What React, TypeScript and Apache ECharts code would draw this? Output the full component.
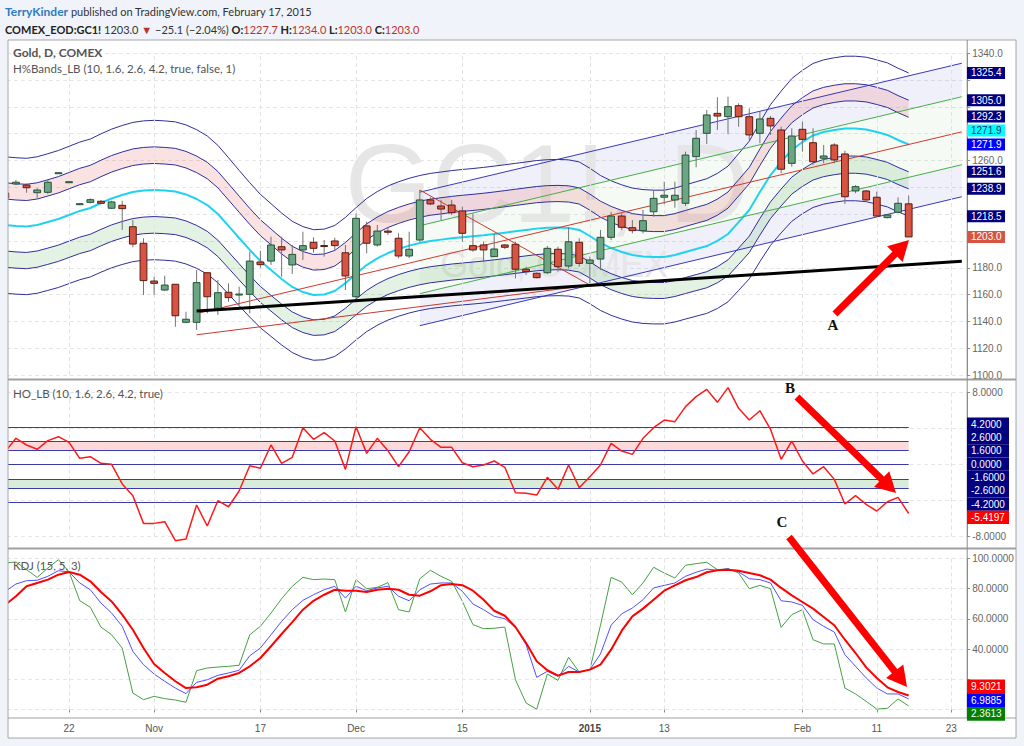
import React, { useEffect, useRef } from 'react';
import * as echarts from 'echarts';

// ---------- DATA ----------
const dates = [
  '2014-10-14','2014-10-15','2014-10-16','2014-10-17','2014-10-20','2014-10-21','2014-10-22','2014-10-23','2014-10-24',
  '2014-10-27','2014-10-28','2014-10-29','2014-10-30','2014-10-31','2014-11-03','2014-11-04','2014-11-05','2014-11-06',
  '2014-11-07','2014-11-10','2014-11-11','2014-11-12','2014-11-13','2014-11-14','2014-11-17','2014-11-18','2014-11-19',
  '2014-11-20','2014-11-21','2014-11-24','2014-11-25','2014-11-26','2014-11-28','2014-12-01','2014-12-02','2014-12-03',
  '2014-12-04','2014-12-05','2014-12-08','2014-12-09','2014-12-10','2014-12-11','2014-12-12','2014-12-15','2014-12-16',
  '2014-12-17','2014-12-18','2014-12-19','2014-12-22','2014-12-23','2014-12-24','2014-12-26','2014-12-29','2014-12-30',
  '2014-12-31','2015-01-02','2015-01-05','2015-01-06','2015-01-07','2015-01-08','2015-01-09','2015-01-12','2015-01-13',
  '2015-01-14','2015-01-15','2015-01-16','2015-01-20','2015-01-21','2015-01-22','2015-01-23','2015-01-26','2015-01-27',
  '2015-01-28','2015-01-29','2015-01-30','2015-02-02','2015-02-03','2015-02-04','2015-02-05','2015-02-06','2015-02-09',
  '2015-02-10','2015-02-11','2015-02-12','2015-02-13','2015-02-17','2015-02-18','2015-02-19','2015-02-20','2015-02-23',
  '2015-02-24',
];

const dateTickLabels: Record<string, string> = {
  '2014-10-22': '22', '2014-11-03': 'Nov', '2014-11-17': '17', '2014-12-01': 'Dec', '2014-12-15': '15',
  '2015-01-02': '2015', '2015-01-13': '13', '2015-02-02': 'Feb', '2015-02-11': '11', '2015-02-23': '23',
};
// axis tick labels left visible (the others sit under the value tags)
const priceAxisLabels = [1340, 1260, 1180, 1160, 1140, 1120, 1100];
const hoAxisLabels = [8, -8];
const kdjAxisLabels = [100, 80, 60, 40];

const opens = [
  1235.8,1242.5,1241.7,1236.0,1236.3,1250.9,1244.2,1227.4,1228.8,1229.6,1224.4,1226.6,1210.6,1198.3,1170.1,1163.4,1167.7,1139.3,
  1139.3,1176.3,1149.8,1161.7,1159.9,1160.2,1184.3,1185.0,1195.7,1182.1,1193.3,1199.0,1196.6,1200.0,1191.2,1158.4,1211.2,1197.0,
  1207.4,1202.0,1188.8,1200.7,1230.6,1226.1,1226.8,1222.4,1196.5,1197.0,1188.3,1197.0,1197.5,1178.9,1175.9,1176.3,1193.8,1181.3,
  1199.0,1183.3,1186.5,1202.7,1218.6,1209.9,1207.7,1221.8,1232.6,1230.6,1228.1,1262.9,1280.3,1295.2,1292.7,1300.9,1292.7,1280.3,
  1291.5,1282.8,1257.9,1283.3,1273.3,1261.7,1271.6,1264.9,1237.3,1237.3,1232.6,1217.4,1221.4,1227.7,
];
const closes = [
  1232.0,1243.8,1239.7,1238.0,1243.8,1250.9,1244.2,1227.8,1230.8,1228.1,1229.1,1224.1,1197.7,1170.4,1168.4,1167.1,1144.2,1141.6,
  1168.9,1158.4,1161.4,1157.7,1160.4,1185.0,1182.3,1197.0,1193.3,1190.0,1196.5,1194.5,1196.4,1196.5,1173.9,1216.9,1198.3,1207.4,
  1206.5,1188.8,1193.8,1230.6,1227.6,1223.8,1221.1,1205.7,1193.3,1193.3,1194.0,1195.3,1178.9,1177.1,1172.6,1194.5,1180.8,1199.4,
  1183.3,1185.8,1202.7,1218.6,1210.2,1207.7,1215.1,1231.8,1234.1,1234.1,1264.1,1276.6,1294.0,1293.2,1300.2,1292.7,1279.1,1291.0,
  1285.8,1253.5,1278.3,1275.8,1259.1,1263.4,1260.4,1233.0,1240.5,1230.6,1218.6,1219.4,1228.1,1203.0,
];
const lows = [
  1230.6,1241.7,1236.0,1231.8,1235.0,1250.9,1244.2,1227.2,1228.1,1227.4,1223.8,1208.2,1195.3,1159.7,1159.7,1162.7,1136.0,1138.6,
  1133.6,1146.0,1144.8,1154.7,1152.2,1146.0,1180.0,1182.1,1173.3,1175.4,1185.8,1191.2,1188.3,1193.3,1163.4,1156.0,1190.8,1195.7,
  1204.4,1187.1,1187.1,1199.4,1226.8,1215.6,1219.4,1199.4,1192.0,1184.5,1188.0,1194.0,1172.1,1174.6,1172.1,1175.4,1177.1,1179.6,
  1180.8,1168.4,1178.3,1200.7,1208.2,1205.7,1205.7,1218.1,1227.6,1224.8,1226.1,1255.0,1272.3,1282.8,1279.6,1285.2,1275.3,1272.9,
  1279.1,1250.5,1255.4,1266.6,1256.7,1257.9,1257.9,1227.6,1235.6,1229.3,1218.1,1216.9,1220.6,1203.0,
];
const highs = [
  1238.0,1245.5,1243.0,1239.3,1245.5,1250.9,1244.2,1228.0,1231.8,1230.5,1230.0,1230.0,1215.6,1202.0,1173.3,1174.1,1167.9,1147.2,
  1178.3,1176.5,1170.9,1168.4,1165.9,1192.0,1192.7,1203.2,1203.2,1197.0,1206.9,1202.7,1200.7,1202.4,1197.0,1220.6,1214.4,1211.9,
  1209.7,1205.7,1206.9,1238.0,1232.6,1230.6,1230.6,1225.6,1220.6,1199.4,1205.7,1197.7,1199.4,1180.8,1176.5,1196.2,1195.7,1210.2,
  1202.0,1188.3,1208.2,1221.8,1220.6,1215.6,1223.1,1238.0,1244.2,1244.2,1266.6,1282.8,1297.7,1307.2,1307.6,1302.7,1299.0,1296.4,
  1293.2,1285.2,1284.1,1289.0,1284.1,1271.6,1272.9,1267.3,1241.7,1238.0,1236.8,1220.0,1232.6,1234.0,
];

// H%Bands centre line (cyan); the bands sit at the given percentages around it
const hbandCenter = [
  1211.9,1211.2,1210.8,1211.9,1214.1,1216.4,1219.4,1222.4,1224.6,1228.3,1231.7,1234.3,1236.5,1237.6,1238.0,1237.6,1236.9,1234.7,
  1231.3,1226.8,1220.1,1211.2,1202.2,1193.3,1185.0,1178.3,1171.6,1165.7,1161.9,1159.7,1160.1,1162.7,1168.5,1175.5,1182.0,1187.0,
  1191.0,1194.0,1196.5,1198.5,1200.0,1201.0,1202.0,1202.8,1203.5,1204.3,1205.2,1206.2,1207.2,1208.2,1209.2,1209.8,1210.0,1209.7,
  1208.2,1203.7,1198.5,1194.7,1191.8,1189.5,1188.4,1188.0,1188.0,1189.5,1191.8,1194.0,1196.2,1200.0,1205.2,1214.1,1223.1,1236.5,
  1249.2,1258.9,1267.9,1273.8,1278.7,1281.3,1282.8,1283.9,1283.9,1283.2,1281.3,1279.1,1275.3,1271.94,
];
const bandPercents = [4.2, 2.6, 1.6];

// Trend-line drawings: [start date, end date] and values
const channelDates = ['2014-12-09', '2015-02-24'];
const channelUpperOuter = [1236.4, 1332.6];
const channelUpperInner = [1211.4, 1307.6];
const channelLowerInner = [1160.7, 1256.9];
const channelLowerOuter = [1136.8, 1233.0];
const midTrendDates = ['2014-11-07', '2015-02-24'];
const midTrendValues = [1145.8, 1281.4];
const supportDates = ['2014-11-07', '2015-02-24'];
const supportValues = [1147.7, 1184.9];
const wedgeLowDates = ['2014-11-07', '2015-01-02'];
const wedgeLowValues = [1130.0, 1167.0];
const wedgeHighDates = ['2014-12-09', '2015-01-02'];
const wedgeHighValues = [1238.0, 1167.1];

// HO_LB oscillator
const hoValues = [
  1.45,2.93,2.19,1.71,2.67,3.11,2.49,0.71,0.89,0.15,0.04,-2.14,-3.44,-6.52,-6.52,-6.33,-8.44,-8.26,
  -4.48,-6.81,-4.0,-4.67,-2.92,-0.11,-0.4,2.19,0.15,0.82,4.11,2.82,3.56,2.63,-0.52,4.22,1.26,2.93,
  1.56,-0.22,1.44,4.11,2.82,1.93,1.93,0.22,-0.22,-0.03,0.41,-0.29,-3.11,-3.18,-3.37,-1.4,-2.74,-0.03,
  -2.55,-1.33,-0.03,2.37,1.52,1.15,2.93,4.11,4.96,4.78,6.45,7.56,8.37,6.93,8.56,6.26,4.96,6.0,
  3.93,0.6,2.63,0.41,-1.03,-0.22,-1.63,-4.37,-3.44,-4.41,-5.15,-4.11,-3.63,-5.4197,
];
const hoLevels = [4.2, 2.6, 1.6, 0, -1.6, -2.6, -4.2];

// KDJ
const kdjGreen = [
  97.0,97.7,92.6,87.5,93.7,99.2,91.1,72.1,67.7,54.6,49.5,40.7,10.9,6.5,8.7,7.2,6.3,4.8,
  25.7,27.5,28.1,28.6,29.3,49.5,55.1,63.9,73.4,81.6,87.5,86.0,86.4,86.0,64.6,86.0,80.0,80.9,
  84.0,66.1,64.6,86.6,92.2,88.2,84.9,71.7,56.2,53.5,53.8,54.6,19.7,4.3,0.2,23.5,19.3,34.6,
  24.8,26.4,55.8,87.5,84.4,76.0,83.8,94.2,90.4,87.1,95.5,96.6,97.5,92.6,93.2,90.4,80.0,82.2,
  80.0,54.4,62.8,66.1,46.2,43.4,43.4,14.2,10.3,5.4,0.3,0.8,7.0,2.3613,
];
const kdjBlue = [
  78.3,83.1,85.3,85.6,88.2,91.9,91.1,83.8,79.3,70.5,63.9,55.1,38.5,29.7,23.5,18.7,14.2,10.5,
  18.0,19.7,22.6,24.2,26.0,35.6,40.7,49.5,58.4,66.1,72.3,76.0,79.3,81.6,73.8,81.6,78.7,80.5,
  81.6,75.0,72.0,79.3,83.1,83.8,83.8,78.3,69.9,66.1,61.7,60.1,54.4,42.9,21.3,25.3,22.0,28.6,
  24.8,26.4,36.8,55.8,63.4,67.2,72.7,80.5,82.2,83.8,88.2,90.9,93.0,92.2,93.2,91.1,86.6,86.0,
  83.8,72.0,71.2,69.0,59.5,55.1,51.3,36.3,28.6,20.9,14.2,10.3,10.3,6.9885,
];
const kdjRed = [
  69.4,75.0,81.6,83.8,86.0,89.3,91.1,89.3,84.9,77.8,71.6,62.8,52.8,40.7,30.1,24.2,18.7,14.2,
  14.7,16.4,20.4,22.0,24.2,28.6,34.1,41.9,50.0,57.9,66.1,72.0,76.0,79.3,78.7,78.7,77.8,79.3,
  80.0,79.3,76.0,75.4,78.3,82.3,83.1,82.3,78.7,72.7,65.4,62.1,54.6,44.0,31.9,26.0,22.4,24.8,
  24.8,26.4,29.7,39.6,52.2,61.7,66.8,72.7,78.7,82.2,85.6,87.7,90.9,92.2,92.6,91.9,90.4,88.9,
  86.0,80.5,75.6,71.2,66.8,61.3,55.8,46.2,37.4,27.9,20.9,14.7,11.6,9.3021,
];

// ---------- STYLE ----------
const PAGE_BG = '#F0F3FA';
const NAVY = '#2E2E9C';
const UP = '#6BA583', UP_B = '#225437', DOWN = '#D75442', DOWN_B = '#5B1A13', WICK = '#737375';
const FONT = 'Liberation Sans, Arial, sans-serif';
const UI_FONT = 'Lato, Liberation Sans, sans-serif';

const idx = (d: string) => dates.indexOf(d);
const tickDates = Object.keys(dateTickLabels);
const lastIdx = hbandCenter.length - 1;

const bandLine = (k: number) => hbandCenter.map((c) => +(c * (1 + k / 100)).toFixed(3));

function seg(d: string[], v: number[]) {
  return [[idx(d[0]), v[0]], [idx(d[1]), v[1]]];
}

function vLines(xi: number, yi: number) {
  return {
    type: 'line', xAxisIndex: xi, yAxisIndex: yi, data: [], z: 0, silent: true,
    markLine: {
      silent: true, symbol: ['none', 'none'], label: { show: false },
      lineStyle: { color: '#E2E2E2', type: [4, 3], width: 1 },
      emphasis: { disabled: true },
      data: tickDates.map((d) => ({ xAxis: d })),
    },
  };
}

function buildOption() {
  const xAxisBase = (gi: number) => ({
    type: 'category', gridIndex: gi, data: dates, boundaryGap: true,
    axisLine: { show: false }, axisTick: { show: false }, axisLabel: { show: false }, splitLine: { show: false },
  });
  const yAxisBase = (gi: number, min: number, max: number, interval: number, shown: number[], dec: number) => ({
    type: 'value', gridIndex: gi, position: 'right', min, max, interval,
    axisLine: { show: true, lineStyle: { color: '#8C8C8C' } },
    axisTick: { show: true, length: 3, lineStyle: { color: '#8C8C8C' } },
    axisLabel: {
      color: '#666', fontSize: 10, fontFamily: FONT, margin: 5,
      formatter: (v: number) => (shown.some((s) => Math.abs(s - v) < 1e-6) ? v.toFixed(dec) : ''),
    },
    splitLine: { show: true, lineStyle: { color: '#E6E6E6', type: [4, 3] } },
  });

  const line = (data: any[], color: string, width: number, z: number, xi = 0, yi = 0, extra: any = {}) => ({
    type: 'line', xAxisIndex: xi, yAxisIndex: yi, data, symbol: 'none', silent: true, z,
    lineStyle: { color, width }, ...extra,
  });

  const upper = bandPercents.map((k) => bandLine(k));
  const lower = bandPercents.map((k) => bandLine(-k));
  const p16 = bandLine(1.6), p26 = bandLine(2.6), m16 = bandLine(-1.6), m26 = bandLine(-2.6);
  const pinkDiff = p26.map((v, i) => +(v - p16[i]).toFixed(3));
  const greenDiff = m16.map((v, i) => +(v - m26[i]).toFixed(3));

  const c0 = idx(channelDates[0]), c1 = idx(channelDates[1]);
  const channelFill = [
    [c0, channelUpperOuter[0], channelUpperInner[0], c1, channelUpperOuter[1], channelUpperInner[1], 0],
    [c0, channelUpperInner[0], channelLowerInner[0], c1, channelUpperInner[1], channelLowerInner[1], 1],
    [c0, channelLowerInner[0], channelLowerOuter[0], c1, channelLowerInner[1], channelLowerOuter[1], 0],
  ];
  const fillColors = ['rgba(90,90,205,0.09)', 'rgba(110,190,110,0.07)'];

  const candleData = opens.map((o, i) => [i, o, closes[i], lows[i], highs[i]]);

  const series: any[] = [
    vLines(0, 0), vLines(1, 1), vLines(2, 2),
    {
      type: 'custom', xAxisIndex: 0, yAxisIndex: 0, z: 1, silent: true, data: channelFill,
      encode: { x: [0, 3], y: [1, 2, 4, 5] },
      renderItem: (params: any, api: any) => {
        const a = api.coord([api.value(0), api.value(1)]);
        const b = api.coord([api.value(3), api.value(4)]);
        const c = api.coord([api.value(3), api.value(5)]);
        const d = api.coord([api.value(0), api.value(2)]);
        return { type: 'polygon', shape: { points: [a, b, c, d] }, style: { fill: fillColors[api.value(6)] } };
      },
    },
    line(p16, 'rgba(0,0,0,0)', 0, 2, 0, 0, { stack: 'pink', lineStyle: { opacity: 0 } }),
    line(pinkDiff, 'rgba(0,0,0,0)', 0, 2, 0, 0, { stack: 'pink', lineStyle: { opacity: 0 }, areaStyle: { color: 'rgba(235,90,90,0.25)' } }),
    line(m26, 'rgba(0,0,0,0)', 0, 2, 0, 0, { stack: 'green', lineStyle: { opacity: 0 } }),
    line(greenDiff, 'rgba(0,0,0,0)', 0, 2, 0, 0, { stack: 'green', lineStyle: { opacity: 0 }, areaStyle: { color: 'rgba(60,160,60,0.2)' } }),
    ...upper.map((d) => line(d, NAVY, 1, 3)),
    ...lower.map((d) => line(d, NAVY, 1, 3)),
    line(hbandCenter, '#1FD3F0', 2, 3),
    line(seg(channelDates, channelUpperOuter), '#3838B8', 1, 3),
    line(seg(channelDates, channelLowerOuter), '#3838B8', 1, 3),
    line(seg(channelDates, channelUpperInner), '#46AE46', 1, 3),
    line(seg(channelDates, channelLowerInner), '#46AE46', 1, 3),
    line(seg(midTrendDates, midTrendValues), '#D0392B', 1, 3),
    line(seg(wedgeLowDates, wedgeLowValues), '#C83A2E', 1, 3),
    line(seg(wedgeHighDates, wedgeHighValues), '#C83A2E', 1, 3),
    {
      type: 'custom', xAxisIndex: 0, yAxisIndex: 0, z: 5, silent: true, data: candleData,
      encode: { x: 0, y: [1, 2, 3, 4] },
      renderItem: (params: any, api: any) => {
        const i = api.value(0), o = api.value(1), c = api.value(2), l = api.value(3), h = api.value(4);
        const top = api.coord([i, Math.max(o, c)]);
        const bot = api.coord([i, Math.min(o, c)]);
        const hi = api.coord([i, h]);
        const lo = api.coord([i, l]);
        const w = api.size([1, 0])[0] * 0.64;
        const up = c >= o;
        return {
          type: 'group',
          children: [
            { type: 'line', shape: { x1: hi[0], y1: hi[1], x2: lo[0], y2: lo[1] }, style: { stroke: WICK, lineWidth: 1 } },
            {
              type: 'rect',
              shape: { x: top[0] - w / 2, y: top[1], width: w, height: Math.max(bot[1] - top[1], 1) },
              style: { fill: up ? UP : DOWN, stroke: up ? UP_B : DOWN_B, lineWidth: 1 },
            },
          ],
        };
      },
    },
    line(seg(supportDates, supportValues), '#000000', 3, 6),

    // HO panel
    {
      type: 'line', xAxisIndex: 1, yAxisIndex: 1, data: [], z: 1, silent: true,
      markArea: {
        silent: true, emphasis: { disabled: true },
        data: [
          [{ xAxis: dates[0], yAxis: 1.6, itemStyle: { color: 'rgba(250,120,120,0.28)' } }, { xAxis: dates[lastIdx], yAxis: 2.6 }],
          [{ xAxis: dates[0], yAxis: -2.6, itemStyle: { color: 'rgba(80,170,80,0.22)' } }, { xAxis: dates[lastIdx], yAxis: -1.6 }],
        ],
      },
      markLine: {
        silent: true, symbol: ['none', 'none'], label: { show: false }, emphasis: { disabled: true },
        lineStyle: { color: '#3A3AAA', width: 1, type: 'solid' },
        data: hoLevels.map((v) => [{ xAxis: dates[0], yAxis: v }, { xAxis: dates[lastIdx], yAxis: v }]),
      },
    },
    line(hoValues, '#FF1A1A', 1.5, 5, 1, 1, { clip: false }),

    // KDJ panel
    line(kdjGreen, '#45A045', 1, 3, 2, 2, { clip: false }),
    line(kdjBlue, '#5050FF', 1, 4, 2, 2, { clip: false }),
    line(kdjRed, '#FF0000', 2, 5, 2, 2, { clip: false }),
  ];

  return {
    animation: false,
    backgroundColor: PAGE_BG,
    grid: [
      { left: -2.66, right: 56.86, top: 53.3, height: 321.7 },
      { left: -2.66, right: 56.86, top: 392.7, height: 144 },
      { left: -2.66, right: 56.86, top: 558.5, height: 151 },
    ],
    xAxis: [
      xAxisBase(0),
      xAxisBase(1),
      {
        ...xAxisBase(2),
        offset: 8.5,
        axisTick: { show: true, alignWithLabel: true, length: 3, interval: (i: number, v: string) => v in dateTickLabels, lineStyle: { color: '#8C8C8C' } },
        axisLabel: {
          show: true, color: '#555', fontSize: 10, fontFamily: FONT, margin: 5,
          interval: (i: number, v: string) => v in dateTickLabels,
          formatter: (v: string) => (v === '2015-01-02' ? '{b|2015}' : dateTickLabels[v] || ''),
          rich: { b: { fontWeight: 'bold', fontSize: 10, color: '#444', fontFamily: FONT } },
        },
      },
    ],
    yAxis: [
      yAxisBase(0, 1100, 1340, 20, priceAxisLabels, 1),
      yAxisBase(1, -8, 8, 4, hoAxisLabels, 4),
      yAxisBase(2, 0, 100, 20, kdjAxisLabels, 4),
    ],
    series,
  };
}

// spread overlapping tags: 'center' spreads groups around their mean, 'up' keeps the lowest and pushes the rest upward
function declutter(ys: number[], h: number, mode: 'center' | 'up'): number[] {
  if (mode === 'up') {
    const order = ys.map((_, i) => i).sort((a, b) => ys[b] - ys[a] || a - b);
    const out: number[] = new Array(ys.length);
    let prev = Infinity;
    order.forEach((i) => {
      const y = Math.min(ys[i], prev - h);
      out[i] = y;
      prev = y;
    });
    return out;
  }
  const order = ys.map((_, i) => i).sort((a, b) => ys[a] - ys[b]);
  let groups = order.map((i) => ({ idx: [i], mean: ys[i] }));
  const start = (g: any) => g.mean - ((g.idx.length - 1) * h) / 2;
  let changed = true;
  while (changed) {
    changed = false;
    for (let k = 0; k < groups.length - 1; k++) {
      const a = groups[k], b = groups[k + 1];
      const aEnd = start(a) + (a.idx.length - 1) * h;
      if (start(b) - aEnd < h) {
        const ids = a.idx.concat(b.idx);
        const mean = ids.reduce((s, i) => s + ys[i], 0) / ids.length;
        groups.splice(k, 2, { idx: ids, mean });
        changed = true;
        break;
      }
    }
  }
  const out: number[] = new Array(ys.length);
  groups.forEach((g) => {
    const s = start(g);
    g.idx.forEach((i, j) => (out[i] = s + j * h));
  });
  return out;
}

function arrow(x1: number, y1: number, x2: number, y2: number) {
  const dx = x2 - x1, dy = y2 - y1, len = Math.hypot(dx, dy);
  const ux = dx / len, uy = dy / len, px = -uy, py = ux;
  const hl = 20, hw = 11;
  const bx = x2 - ux * hl, by = y2 - uy * hl;
  return [
    { type: 'line', z: 60, shape: { x1, y1, x2: bx + ux * 2, y2: by + uy * 2 }, style: { stroke: '#FF0000', lineWidth: 7 } },
    { type: 'polygon', z: 60, shape: { points: [[x2, y2], [bx + px * hw, by + py * hw], [bx - px * hw, by - py * hw]] }, style: { fill: '#FF0000' } },
  ];
}

function buildGraphics(chart: any) {
  const g: any[] = [];
  g.push({ type: 'rect', z: -100, shape: { x: 8, y: 40, width: 1008, height: 698 }, style: { fill: '#FFFFFF' } });
  g.push({ type: 'rect', z: 50, shape: { x: 0, y: 38, width: 8, height: 702 }, style: { fill: PAGE_BG } });
  g.push({ type: 'rect', z: 51, shape: { x: 8, y: 40, width: 1008, height: 698 }, style: { fill: 'none', stroke: '#A6A6A6', lineWidth: 1 } });
  g.push({ type: 'line', z: 51, shape: { x1: 8, y1: 379.5, x2: 1016, y2: 379.5 }, style: { stroke: '#A0A0A0', lineWidth: 2 } });
  g.push({ type: 'line', z: 51, shape: { x1: 8, y1: 548.5, x2: 1016, y2: 548.5 }, style: { stroke: '#A0A0A0', lineWidth: 2 } });
  g.push({ type: 'line', z: 51, shape: { x1: 8, y1: 718, x2: 1016, y2: 718 }, style: { stroke: '#A0A0A0', lineWidth: 1 } });
  g.push({ type: 'line', z: 51, shape: { x1: 967.2, y1: 40, x2: 967.2, y2: 718 }, style: { stroke: '#8C8C8C', lineWidth: 1 } });

  // watermark
  g.push({ type: 'text', z: 1.5, silent: true, style: { x: 547, y: 183, text: 'GC1!, D', fill: '#E6E6E6', font: `112px ${FONT}`, align: 'center', verticalAlign: 'middle' } });
  g.push({ type: 'text', z: 1.5, silent: true, style: { x: 440, y: 264, text: 'Gold, COMEX', fill: '#E6E6E6', font: `36px ${FONT}`, align: 'left', verticalAlign: 'middle' } });

  // panel titles
  g.push({ type: 'text', z: 52, style: { x: 13, y: 52, text: 'Gold, D, COMEX', fill: '#555', font: `bold 12px ${UI_FONT}`, verticalAlign: 'middle' } });
  g.push({ type: 'text', z: 52, style: { x: 13, y: 68, text: 'H%Bands_LB (10, 1.6, 2.6, 4.2, true, false, 1)', fill: '#555', font: `11.5px ${UI_FONT}`, verticalAlign: 'middle' } });
  g.push({ type: 'text', z: 52, style: { x: 13, y: 393, text: 'HO_LB (10, 1.6, 2.6, 4.2, true)', fill: '#555', font: `11.5px ${UI_FONT}`, verticalAlign: 'middle' } });
  g.push({ type: 'text', z: 52, style: { x: 13, y: 565, text: 'KDJ (15, 5, 3)', fill: '#555', font: `11.5px ${UI_FONT}`, verticalAlign: 'middle' } });

  // header
  g.push({
    type: 'text', z: 52,
    style: {
      x: 5, y: 11, verticalAlign: 'middle',
      text: '{n|TerryKinder}{t| published on TradingView.com, February 17, 2015}',
      rich: {
        n: { fill: '#2D7CC0', font: `bold 12px ${UI_FONT}` },
        t: { fill: '#333', font: `11px ${UI_FONT}` },
      },
    },
  });
  const last = lastIdx;
  const chg = closes[last] - closes[last - 1];
  const pct = (chg / closes[last - 1]) * 100;
  g.push({
    type: 'text', z: 52,
    style: {
      x: 5, y: 29, verticalAlign: 'middle',
      text:
        `{b|COMEX_EOD:GC1!}{t| ${closes[last].toFixed(1)} }{r|▼}{t| −${Math.abs(chg).toFixed(1)} (−${Math.abs(pct).toFixed(2)}%) }` +
        `{b|O:}{r|${opens[last].toFixed(1)}}{b| H:}{r|${highs[last].toFixed(1)}}{b| L:}{r|${lows[last].toFixed(1)}}{b| C:}{r|${closes[last].toFixed(1)}}`,
      rich: {
        b: { fill: '#222', font: `bold 11px ${UI_FONT}` },
        t: { fill: '#333', font: `11px ${UI_FONT}` },
        r: { fill: '#C0302A', font: `11px ${UI_FONT}` },
      },
    },
  });

  // arrows + letters
  g.push(...arrow(835, 314, 909, 240));
  g.push(...arrow(797, 397, 896, 493));
  g.push(...arrow(789, 537, 907, 687));
  const letter = (t: string, x: number, y: number) => ({
    type: 'text', z: 61, style: { x, y, text: t, fill: '#111', font: 'bold 15px Liberation Serif, DejaVu Serif, serif', align: 'center', verticalAlign: 'middle' },
  });
  g.push(letter('A', 833, 325), letter('B', 790, 388), letter('C', 782, 522));

  // value tags on the right scale
  const addTags = (axis: number, items: { v: number; bg: string; fg: string; txt: string }[], spacing: number, hgt: number, w: number, mode: 'center' | 'up') => {
    const ys = items.map((it) => chart.convertToPixel({ yAxisIndex: axis }, it.v));
    const pos = declutter(ys, spacing, mode);
    items.forEach((it, i) => {
      g.push({ type: 'rect', z: 70, shape: { x: 967, y: pos[i] - hgt / 2, width: w, height: hgt }, style: { fill: it.bg } });
      g.push({ type: 'text', z: 71, style: { x: 971, y: pos[i], text: it.txt, fill: it.fg, font: `10px ${FONT}`, verticalAlign: 'middle' } });
    });
  };
  const c = hbandCenter[last];
  const priceTags = [
    ...[4.2, 2.6, 1.6].map((k) => ({ v: c * (1 + k / 100), bg: '#000080', fg: '#fff', txt: (c * (1 + k / 100)).toFixed(1) })),
    { v: c, bg: '#0000FF', fg: '#fff', txt: c.toFixed(1) },
    { v: c, bg: '#00FFFF', fg: '#1A3A6A', txt: c.toFixed(1) },
    ...[-1.6, -2.6, -4.2].map((k) => ({ v: c * (1 + k / 100), bg: '#000080', fg: '#fff', txt: (c * (1 + k / 100)).toFixed(1) })),
    { v: closes[last], bg: '#D75442', fg: '#fff', txt: closes[last].toFixed(1) },
  ];
  addTags(0, priceTags, 14, 12, 38, 'up');
  const hoTags = [
    ...hoLevels.map((v) => ({ v, bg: '#000080', fg: '#fff', txt: v.toFixed(4) })),
    { v: hoValues[last], bg: '#FF0000', fg: '#fff', txt: hoValues[last].toFixed(4) },
  ];
  addTags(1, hoTags, 13.3, 13.3, 42, 'center');
  const kdjTags = [
    { v: kdjRed[last], bg: '#FF0000', fg: '#fff', txt: kdjRed[last].toFixed(4) },
    { v: kdjBlue[last], bg: '#0000FF', fg: '#fff', txt: kdjBlue[last].toFixed(4) },
    { v: kdjGreen[last], bg: '#008000', fg: '#fff', txt: kdjGreen[last].toFixed(4) },
  ];
  addTags(2, kdjTags, 13.8, 13.8, 38, 'center');
  return g;
}

export default function App() {
  const ref = useRef<HTMLDivElement>(null);
  useEffect(() => {
    const chart = echarts.init(ref.current!, undefined, { renderer: 'svg', width: 1024, height: 746 });
    chart.setOption(buildOption() as any);
    chart.setOption({ graphic: { elements: buildGraphics(chart) } } as any);
    return () => chart.dispose();
  }, []);
  return <div ref={ref} style={{ position: 'fixed', left: 0, top: 0, width: 1024, height: 746 }} />;
}
